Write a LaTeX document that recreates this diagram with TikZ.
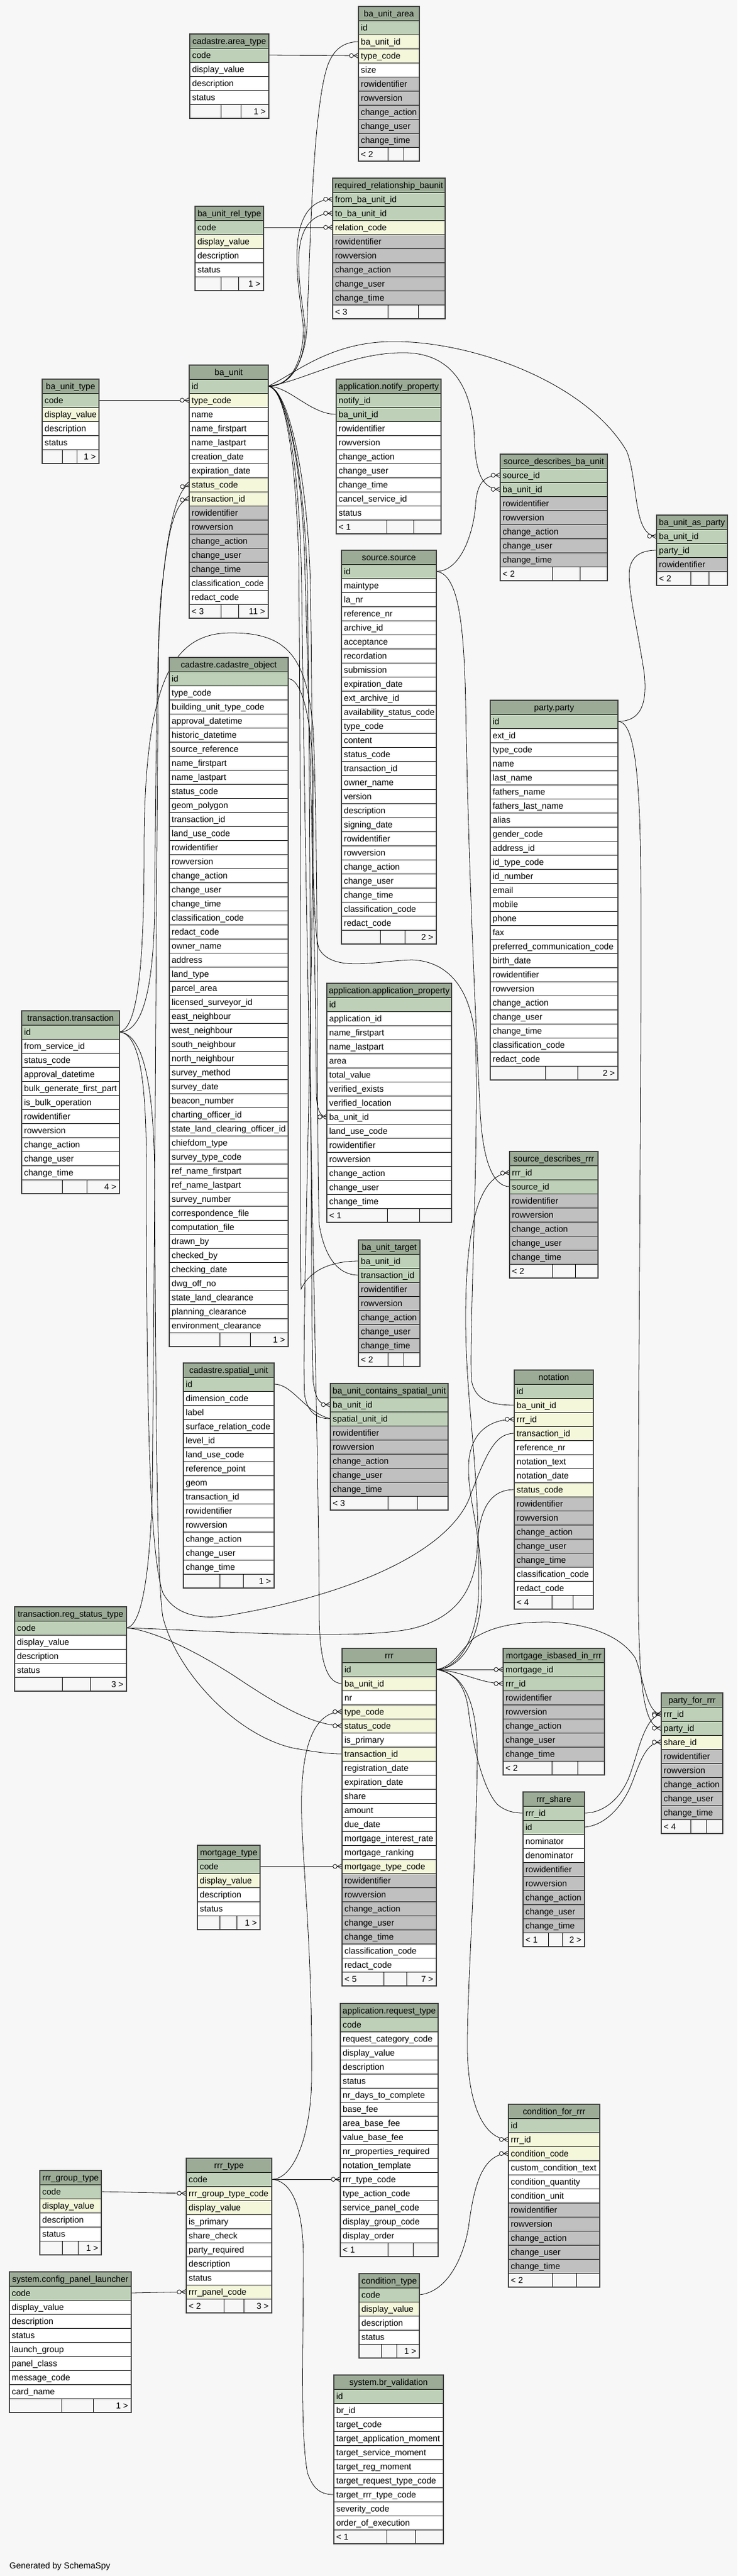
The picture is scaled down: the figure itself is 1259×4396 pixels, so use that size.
\documentclass[tikz,border=0pt]{standalone}
\usepackage{fontspec}
\setmainfont{Liberation Sans}
\usetikzlibrary{decorations.markings}
\definecolor{bg}{HTML}{F7F7F7}
\definecolor{hd}{HTML}{9BAB96}
\definecolor{pk}{HTML}{BED1B8}
\definecolor{fk}{HTML}{F4F7DA}
\definecolor{wh}{HTML}{FFFFFF}
\definecolor{au}{HTML}{C0C0C0}
\pgfdeclarelayer{back}
\pgfdeclarelayer{lines}
\pgfsetlayers{back,lines,main}
\tikzset{
  tbltitle/.style={anchor=base, inner sep=0pt},
  tblfield/.style={anchor=base west, inner sep=0pt},
  tblcount/.style={anchor=base east, inner sep=0pt},
  tblrow/.style={draw=black, line width=0.8pt},
  tblframe/.style={draw=black!75, line width=1.4pt},
  fkline/.style={draw=black, line width=0.8pt, postaction={decorate},
    decoration={markings, mark=at position 1 with {
      \draw[line width=0.8pt, fill=white] (-12pt,0pt) circle (3.5pt);
      \draw[line width=0.8pt] (-8pt,0pt) -- (0pt,4.5pt) (-8pt,0pt) -- (0pt,-4.5pt);}}}
}
\newcommand{\dbtable}[6]{%
  \fill[hd] (#2,#4) rectangle (#3,#4+24);
  \draw[tblrow] (#2,#4) rectangle (#3,#4+24);
  \node[tbltitle] (#1) at ({(#2+#3)/2},#4+17) {#5};
  \foreach \rc/\rt [count=\ri from 1] in {#6}{%
    \draw[tblrow, fill=\rc] (#2,#4+24*\ri) rectangle (#3,#4+24*\ri+24);
    \node[tblfield] at (#2+4,#4+24*\ri+17) {\rt};
    \coordinate (#1-\rt-w) at (#2,#4+24*\ri+12);
    \coordinate (#1-\rt-e) at (#3,#4+24*\ri+12);
    \xdef\lastrow{\ri}}
  \xdef\tblxl{#2}\xdef\tblxr{#3}\xdef\tblyt{#4}}
\newcommand{\dbfoot}[4]{%
  \pgfmathsetmacro\fy{\tblyt+24*\lastrow+24}%
  \pgfmathsetmacro\fa{\tblxl+#1*(\tblxr-\tblxl)}%
  \pgfmathsetmacro\fb{\tblxl+#2*(\tblxr-\tblxl)}%
  \draw[tblrow, fill=bg] (\tblxl,\fy) rectangle (\fa,\fy+24);
  \draw[tblrow, fill=bg] (\fa,\fy) rectangle (\fb,\fy+24);
  \draw[tblrow, fill=bg] (\fb,\fy) rectangle (\tblxr,\fy+24);
  \node[tblfield] at (\tblxl+4,\fy+17) {#3};
  \node[tblcount] at (\tblxr-5,\fy+17) {#4};
  \draw[tblframe] (\tblxl,\tblyt) rectangle (\tblxr,\fy+24);}
\catcode`\_=12
\begin{document}
\begin{tikzpicture}[x=1pt, y=-1pt, font=\fontsize{14.67}{17}\selectfont]
\useasboundingbox (0,0) rectangle (1259,4396);
\begin{pgfonlayer}{back}
\fill[bg] (0,0) rectangle (1259,4396);
\end{pgfonlayer}

\dbtable{area_type}{324}{459}{58}{cadastre.area_type}{pk/code,wh/display_value,wh/description,wh/status}
\dbfoot{.395}{.65}{}{1 >}
\dbtable{ba_unit_area}{612}{716}{11}{ba_unit_area}{pk/id,fk/ba_unit_id,fk/type_code,wh/size,au/rowidentifier,au/rowversion,au/change_action,au/change_user,au/change_time}
\dbfoot{.48}{.74}{< 2}{}
\dbtable{ba_unit_rel_type}{333}{450}{352}{ba_unit_rel_type}{pk/code,fk/display_value,wh/description,wh/status}
\dbfoot{.38}{.64}{}{1 >}
\dbtable{req_rel}{568}{760}{304}{required_relationship_baunit}{pk/from_ba_unit_id,pk/to_ba_unit_id,fk/relation_code,au/rowidentifier,au/rowversion,au/change_action,au/change_user,au/change_time}
\dbfoot{.49}{.76}{< 3}{}
\dbtable{ba_unit_type}{72}{169}{647}{ba_unit_type}{pk/code,fk/display_value,wh/description,wh/status}
\dbfoot{.355}{.615}{}{1 >}
\dbtable{ba_unit}{323}{458}{623}{ba_unit}{pk/id,fk/type_code,wh/name,wh/name_firstpart,wh/name_lastpart,wh/creation_date,wh/expiration_date,fk/status_code,fk/transaction_id,au/rowidentifier,au/rowversion,au/change_action,au/change_user,au/change_time,wh/classification_code,wh/redact_code}
\dbfoot{.405}{.624}{< 3}{11 >}
\dbtable{notify}{574}{753}{647}{application.notify_property}{pk/notify_id,pk/ba_unit_id,wh/rowidentifier,wh/rowversion,wh/change_action,wh/change_user,wh/change_time,wh/cancel_service_id,wh/status}
\dbfoot{.485}{.74}{< 1}{}
\dbtable{sdbu}{854}{1037}{775}{source_describes_ba_unit}{pk/source_id,pk/ba_unit_id,au/rowidentifier,au/rowversion,au/change_action,au/change_user,au/change_time}
\dbfoot{.488}{.745}{< 2}{}
\dbtable{baparty}{1121}{1242}{879}{ba_unit_as_party}{pk/ba_unit_id,pk/party_id,au/rowidentifier}
\dbfoot{.484}{.736}{< 2}{}
\dbtable{source}{583}{745}{939}{source.source}{pk/id,wh/maintype,wh/la_nr,wh/reference_nr,wh/archive_id,wh/acceptance,wh/recordation,wh/submission,wh/expiration_date,wh/ext_archive_id,wh/availability_status_code,wh/type_code,wh/content,wh/status_code,wh/transaction_id,wh/owner_name,wh/version,wh/description,wh/signing_date,wh/rowidentifier,wh/rowversion,wh/change_action,wh/change_user,wh/change_time,wh/classification_code,wh/redact_code}
\dbfoot{.41}{.67}{}{2 >}
\dbtable{party}{837}{1055}{1195}{party.party}{pk/id,wh/ext_id,wh/type_code,wh/name,wh/last_name,wh/fathers_name,wh/fathers_last_name,wh/alias,wh/gender_code,wh/address_id,wh/id_type_code,wh/id_number,wh/email,wh/mobile,wh/phone,wh/fax,wh/preferred_communication_code,wh/birth_date,wh/rowidentifier,wh/rowversion,wh/change_action,wh/change_user,wh/change_time,wh/classification_code,wh/redact_code}
\dbfoot{.433}{.687}{}{2 >}
\dbtable{cad_obj}{289}{492}{1122}{cadastre.cadastre_object}{pk/id,wh/type_code,wh/building_unit_type_code,wh/approval_datetime,wh/historic_datetime,wh/source_reference,wh/name_firstpart,wh/name_lastpart,wh/status_code,wh/geom_polygon,wh/transaction_id,wh/land_use_code,wh/rowidentifier,wh/rowversion,wh/change_action,wh/change_user,wh/change_time,wh/classification_code,wh/redact_code,wh/owner_name,wh/address,wh/land_type,wh/parcel_area,wh/licensed_surveyor_id,wh/east_neighbour,wh/west_neighbour,wh/south_neighbour,wh/north_neighbour,wh/survey_method,wh/survey_date,wh/beacon_number,wh/charting_officer_id,wh/state_land_clearing_officer_id,wh/chiefdom_type,wh/survey_type_code,wh/ref_name_firstpart,wh/ref_name_lastpart,wh/survey_number,wh/correspondence_file,wh/computation_file,wh/drawn_by,wh/checked_by,wh/checking_date,wh/dwg_off_no,wh/state_land_clearance,wh/planning_clearance,wh/environment_clearance}
\dbfoot{.426}{.683}{}{1 >}
\dbtable{transaction}{37}{204}{1725}{transaction.transaction}{pk/id,wh/from_service_id,wh/status_code,wh/approval_datetime,wh/bulk_generate_first_part,wh/is_bulk_operation,wh/rowidentifier,wh/rowversion,wh/change_action,wh/change_user,wh/change_time}
\dbfoot{.415}{.67}{}{4 >}
\dbtable{app_prop}{558}{771}{1678}{application.application_property}{pk/id,wh/application_id,wh/name_firstpart,wh/name_lastpart,wh/area,wh/total_value,wh/verified_exists,wh/verified_location,wh/ba_unit_id,wh/land_use_code,wh/rowidentifier,wh/rowversion,wh/change_action,wh/change_user,wh/change_time}
\dbfoot{.486}{.743}{< 1}{}
\dbtable{sdrrr}{870}{1021}{1965}{source_describes_rrr}{pk/rrr_id,pk/source_id,au/rowidentifier,au/rowversion,au/change_action,au/change_user,au/change_time}
\dbfoot{.486}{.746}{< 2}{}
\dbtable{bu_target}{612}{717}{2116}{ba_unit_target}{pk/ba_unit_id,pk/transaction_id,au/rowidentifier,au/rowversion,au/change_action,au/change_user,au/change_time}
\dbfoot{.484}{.737}{< 2}{}
\dbtable{spatial}{313}{468}{2326}{cadastre.spatial_unit}{pk/id,wh/dimension_code,wh/label,wh/surface_relation_code,wh/level_id,wh/land_use_code,wh/reference_point,wh/geom,wh/transaction_id,wh/rowidentifier,wh/rowversion,wh/change_action,wh/change_user,wh/change_time}
\dbfoot{.404}{.663}{}{1 >}
\dbtable{bucsu}{564}{765}{2361}{ba_unit_contains_spatial_unit}{pk/ba_unit_id,pk/spatial_unit_id,au/rowidentifier,au/rowversion,au/change_action,au/change_user,au/change_time}
\dbfoot{.49}{.74}{< 3}{}
\dbtable{notation}{878}{1013}{2338}{notation}{pk/id,fk/ba_unit_id,fk/rrr_id,fk/transaction_id,wh/reference_nr,wh/notation_text,wh/notation_date,fk/status_code,au/rowidentifier,au/rowversion,au/change_action,au/change_user,au/change_time,wh/classification_code,wh/redact_code}
\dbfoot{.48}{.74}{< 4}{}
\dbtable{reg_status}{25}{216}{2742}{transaction.reg_status_type}{pk/code,wh/display_value,wh/description,wh/status}
\dbfoot{.425}{.677}{}{3 >}
\dbtable{rrr}{584}{745}{2813}{rrr}{pk/id,fk/ba_unit_id,wh/nr,fk/type_code,fk/status_code,wh/is_primary,fk/transaction_id,wh/registration_date,wh/expiration_date,wh/share,wh/amount,wh/due_date,wh/mortgage_interest_rate,wh/mortgage_ranking,fk/mortgage_type_code,au/rowidentifier,au/rowversion,au/change_action,au/change_user,au/change_time,wh/classification_code,wh/redact_code}
\dbfoot{.446}{.686}{< 5}{7 >}
\dbtable{mort_rrr}{859}{1032}{2813}{mortgage_isbased_in_rrr}{pk/mortgage_id,pk/rrr_id,au/rowidentifier,au/rowversion,au/change_action,au/change_user,au/change_time}
\dbfoot{.483}{.737}{< 2}{}
\dbtable{party_rrr}{1129}{1234}{2889}{party_for_rrr}{pk/rrr_id,pk/party_id,fk/share_id,au/rowidentifier,au/rowversion,au/change_action,au/change_user,au/change_time}
\dbfoot{.484}{.737}{< 4}{}
\dbtable{rrr_share}{893}{998}{3058}{rrr_share}{pk/rrr_id,pk/id,wh/nominator,wh/denominator,au/rowidentifier,au/rowversion,au/change_action,au/change_user,au/change_time}
\dbfoot{.415}{.645}{< 1}{2 >}
\dbtable{mortgage_type}{337}{444}{3149}{mortgage_type}{pk/code,fk/display_value,wh/description,wh/status}
\dbfoot{.363}{.628}{}{1 >}
\dbtable{request_type}{581}{748}{3419}{application.request_type}{pk/code,wh/request_category_code,wh/display_value,wh/description,wh/status,wh/nr_days_to_complete,wh/base_fee,wh/area_base_fee,wh/value_base_fee,wh/nr_properties_required,wh/notation_template,wh/rrr_type_code,wh/type_action_code,wh/service_panel_code,wh/display_group_code,wh/display_order}
\dbfoot{.49}{.745}{< 1}{}
\dbtable{cond_rrr}{868}{1024}{3591}{condition_for_rrr}{pk/id,fk/rrr_id,fk/condition_code,wh/custom_condition_text,wh/condition_quantity,wh/condition_unit,au/rowidentifier,au/rowversion,au/change_action,au/change_user,au/change_time}
\dbfoot{.484}{.745}{< 2}{}
\dbtable{rrr_group}{68}{173}{3704}{rrr_group_type}{pk/code,fk/display_value,wh/description,wh/status}
\dbfoot{.365}{.62}{}{1 >}
\dbtable{rrr_type}{318}{464}{3683}{rrr_type}{pk/code,fk/rrr_group_type_code,fk/display_value,wh/is_primary,wh/share_check,wh/party_required,wh/description,wh/status,fk/rrr_panel_code}
\dbfoot{.44}{.676}{< 2}{3 >}
\dbtable{panel}{16}{224}{3877}{system.config_panel_launcher}{pk/code,wh/display_value,wh/description,wh/status,wh/launch_group,wh/panel_class,wh/message_code,wh/card_name}
\dbfoot{.429}{.688}{}{1 >}
\dbtable{cond_type}{613}{716}{3880}{condition_type}{pk/code,fk/display_value,wh/description,wh/status}
\dbfoot{.368}{.627}{}{1 >}
\dbtable{br_val}{570}{757}{4053}{system.br_validation}{pk/id,wh/br_id,wh/target_code,wh/target_application_moment,wh/target_service_moment,wh/target_reg_moment,wh/target_request_type_code,wh/target_rrr_type_code,wh/severity_code,wh/order_of_execution}
\dbfoot{.486}{.743}{< 1}{}

\node[tblfield] (credit) at (16,4383) {Generated by SchemaSpy};

\begin{pgfonlayer}{lines}
\draw[fkline] (area_type-code-e) -- (ba_unit_area-type_code-w);
\draw[fkline] (ba_unit_rel_type-code-e) -- (req_rel-relation_code-w);
\draw[fkline] (ba_unit_type-code-e) -- (ba_unit-type_code-w);
\draw[fkline] (ba_unit-id-e) .. controls (505,659) and (522,600) .. (524,560) .. controls (530,400) and (535,180) .. (560,110) .. controls (570,85) and (585,72) .. (ba_unit_area-ba_unit_id-w);
\draw[fkline] (ba_unit-id-e) .. controls (500,659) and (518,610) .. (518,560) .. controls (514,520) and (506,480) .. (507,430) .. controls (508,380) and (525,340) .. (req_rel-from_ba_unit_id-w);
\draw[fkline] (ba_unit-id-e) .. controls (502,659) and (521,610) .. (521,560) .. controls (517,520) and (510,490) .. (510,445) .. controls (510,400) and (525,364) .. (req_rel-to_ba_unit_id-w);
\draw[fkline] (ba_unit-id-e) .. controls (495,660) and (530,707) .. (notify-ba_unit_id-w);
\draw[fkline] (ba_unit-id-e) .. controls (520,650) and (600,600) .. (694,602) .. controls (790,605) and (808,690) .. (810,750) .. controls (812,810) and (825,835) .. (sdbu-ba_unit_id-w);
\draw[fkline] (ba_unit-id-e) .. controls (500,640) and (560,585) .. (665,583) .. controls (800,580) and (1000,650) .. (1070,770) .. controls (1090,820) and (1080,915) .. (baparty-ba_unit_id-w);
\draw[fkline] (source-id-e) .. controls (790,975) and (810,900) .. (812,860) .. controls (815,820) and (830,811) .. (sdbu-source_id-w);
\draw[fkline] (party-id-e) .. controls (1095,1231) and (1105,1200) .. (1100,1150) .. controls (1090,1080) and (1070,1000) .. (1075,970) .. controls (1080,945) and (1100,939) .. (baparty-party_id-w);
\draw[fkline] (party-id-e) .. controls (1080,1231) and (1093,1300) .. (1094,1500) .. controls (1096,1800) and (1088,2500) .. (1090,2750) .. controls (1092,2880) and (1100,2949) .. (party_rrr-party_id-w);
\draw[fkline] (cad_obj-id-e) .. controls (520,1160) and (535,1250) .. (535,1350) .. controls (532,1800) and (515,2300) .. (520,2380) .. controls (525,2410) and (540,2421) .. (bucsu-spatial_unit_id-w);
\draw[fkline] (spatial-id-e) .. controls (500,2362) and (520,2410) .. (bucsu-spatial_unit_id-w);
\draw[fkline] (ba_unit-id-e) .. controls (490,665) and (520,800) .. (525,1000) .. controls (532,1600) and (530,2300) .. (535,2360) .. controls (540,2390) and (545,2397) .. (bucsu-ba_unit_id-w);
\draw[fkline] (ba_unit-id-e) .. controls (490,662) and (515,800) .. (520,950) .. controls (530,1300) and (540,1700) .. (540,1860) .. controls (540,1890) and (545,1906) .. (app_prop-ba_unit_id-w);
\draw[fkline] (ba_unit-id-e) .. controls (490,663) and (505,800) .. (510,950) .. controls (515,1500) and (512,2100) .. (514,2200) .. controls (530,2165) and (570,2152) .. (bu_target-ba_unit_id-w);
\draw[fkline] (ba_unit-id-e) .. controls (490,664) and (512,800) .. (515,1000) .. controls (525,1800) and (545,2500) .. (545,2760) .. controls (546,2840) and (560,2873) .. (rrr-ba_unit_id-w);
\draw[fkline] (ba_unit-id-e) .. controls (490,661) and (525,800) .. (530,1000) .. controls (535,1300) and (530,1580) .. (545,1620) .. controls (570,1660) and (640,1640) .. (703,1638) .. controls (760,1640) and (805,1680) .. (812,1780) .. controls (818,1950) and (800,2300) .. (805,2355) .. controls (810,2390) and (840,2398) .. (notation-ba_unit_id-w);
\draw[fkline] (reg_status-code-e) .. controls (240,2775) and (255,2700) .. (260,2550) .. controls (265,2000) and (268,1300) .. (271,1096) .. controls (276,960) and (295,835) .. (ba_unit-status_code-w);
\draw[fkline] (transaction-id-e) .. controls (240,1762) and (262,1700) .. (264,1550) .. controls (266,1300) and (268,1050) .. (278,989) .. controls (288,900) and (300,855) .. (ba_unit-transaction_id-w);
\draw[fkline] (transaction-id-e) .. controls (235,1755) and (246,1650) .. (246,1450) .. controls (246,1150) and (300,1080) .. (395,1080) .. controls (490,1080) and (525,1120) .. (535,1250) .. controls (545,1500) and (540,1950) .. (545,2090) .. controls (555,2150) and (580,2176) .. (bu_target-transaction_id-w);
\draw[fkline] (transaction-id-e) .. controls (240,1765) and (250,1850) .. (250,2000) .. controls (250,2400) and (255,2650) .. (278,2718) .. controls (300,2760) and (350,2765) .. (400,2755) .. controls (600,2720) and (760,2650) .. (800,2560) .. controls (830,2480) and (845,2446) .. (notation-transaction_id-w);
\draw[fkline] (transaction-id-e) .. controls (245,1765) and (262,1850) .. (264,2000) .. controls (266,2400) and (268,2700) .. (278,2759) .. controls (300,2850) and (400,2960) .. (500,2983) .. controls (540,2990) and (560,2993) .. (rrr-transaction_id-w);
\draw[fkline] (reg_status-code-e) .. controls (350,2782) and (600,2800) .. (700,2780) .. controls (790,2760) and (812,2700) .. (815,2640) .. controls (818,2570) and (840,2542) .. (notation-status_code-w);
\draw[fkline] (reg_status-code-e) .. controls (260,2782) and (330,2815) .. (400,2860) .. controls (460,2900) and (530,2945) .. (rrr-status_code-w);
\draw[fkline] (source-id-e) .. controls (780,980) and (792,1050) .. (795,1200) .. controls (800,1500) and (815,1800) .. (820,1900) .. controls (825,1990) and (845,2025) .. (sdrrr-source_id-w);
\draw[fkline] (rrr-id-e) .. controls (780,2849) and (815,2800) .. (817,2720) .. controls (820,2500) and (795,2400) .. (795,2250) .. controls (795,2100) and (815,2005) .. (sdrrr-rrr_id-w);
\draw[fkline] (rrr-id-e) .. controls (785,2849) and (820,2800) .. (822,2720) .. controls (824,2620) and (798,2560) .. (800,2500) .. controls (802,2450) and (830,2422) .. (notation-rrr_id-w);
\draw[fkline] (rrr-id-e) -- (mort_rrr-mortgage_id-w);
\draw[fkline] (rrr-id-e) .. controls (790,2852) and (820,2873) .. (mort_rrr-rrr_id-w);
\draw[fkline] (rrr-id-e) .. controls (775,2845) and (790,2810) .. (810,2795) .. controls (850,2770) and (900,2768) .. (936,2768) .. controls (1000,2770) and (1060,2790) .. (1085,2830) .. controls (1100,2870) and (1105,2925) .. (party_rrr-rrr_id-w);
\draw[fkline] (rrr-id-e) .. controls (780,2855) and (795,2880) .. (800,2920) .. controls (810,3000) and (830,3060) .. (850,3080) .. controls (865,3092) and (880,3094) .. (rrr_share-rrr_id-w);
\draw[fkline] (rrr-id-e) .. controls (790,2855) and (815,2900) .. (815,3000) .. controls (812,3200) and (797,3400) .. (798,3500) .. controls (800,3600) and (830,3651) .. (cond_rrr-rrr_id-w);
\draw[fkline] (rrr_share-rrr_id-e) .. controls (1030,3094) and (1060,3070) .. (1075,3030) .. controls (1090,2990) and (1100,2930) .. (party_rrr-rrr_id-w);
\draw[fkline] (rrr_share-id-e) .. controls (1035,3115) and (1065,3080) .. (1080,3040) .. controls (1095,3000) and (1105,2973) .. (party_rrr-share_id-w);
\draw[fkline] (mortgage_type-code-e) -- (rrr-mortgage_type_code-w);
\draw[fkline] (rrr_type-code-e) .. controls (500,3719) and (530,3650) .. (532,3550) .. controls (534,3300) and (512,3150) .. (515,3061) .. controls (518,2960) and (545,2921) .. (rrr-type_code-w);
\draw[fkline] (rrr_type-code-e) -- (request_type-rrr_type_code-w);
\draw[fkline] (rrr_type-code-e) .. controls (500,3722) and (517,3770) .. (518,3850) .. controls (518,4000) and (512,4150) .. (525,4220) .. controls (535,4250) and (550,4257) .. (br_val-target_rrr_type_code-w);
\draw[fkline] (rrr_group-code-e) -- (rrr_type-rrr_group_type_code-w);
\draw[fkline] (panel-code-e) -- (rrr_type-rrr_panel_code-w);
\draw[fkline] (cond_type-code-e) .. controls (760,3912) and (790,3860) .. (800,3800) .. controls (808,3740) and (820,3675) .. (cond_rrr-condition_code-w);
\end{pgfonlayer}
\end{tikzpicture}
\end{document}
